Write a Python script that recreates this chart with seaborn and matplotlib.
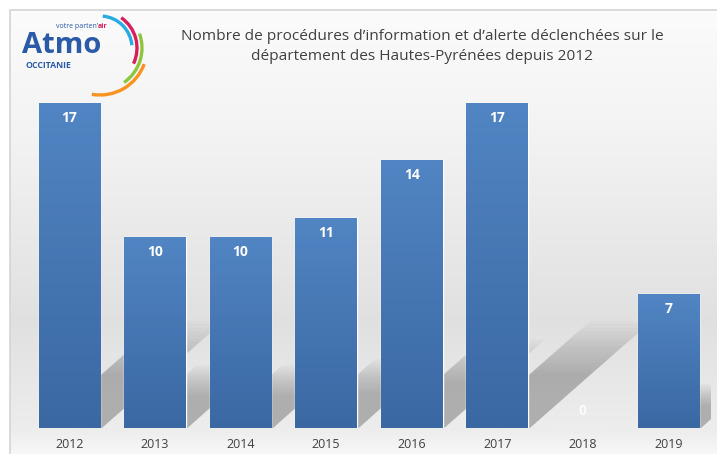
import numpy as np
import matplotlib.pyplot as plt
import seaborn as sns
from matplotlib.patches import Arc, Polygon

# data
years = ['2012', '2013', '2014', '2015', '2016', '2017', '2018', '2019']
counts = [17, 10, 10, 11, 14, 17, 0, 7]

sns.set_style('white')
plt.rcParams['font.family'] = ['Open Sans', 'DejaVu Sans']

W, H = 717, 454
fig = plt.figure(figsize=(W / 100, H / 100), dpi=100)

# background (pixel coordinates, y up)
bg = fig.add_axes([0, 0, 1, 1], zorder=-10)
bg.set_xlim(0, W)
bg.set_ylim(0, H)
bg.axis('off')
yy = np.linspace(0, 1, 256)  # 0 = bottom
shade = np.interp(yy, [0, 0.05, 0.3, 0.7, 1], [0.97, 0.93, 0.88, 0.95, 0.985])
grad = shade[::-1].reshape(-1, 1)
bg.imshow(np.dstack([grad, grad, grad]), aspect='auto', extent=[10, W, 0, H - 10])
bg.plot([10, 10, W], [0, H - 10, H - 10], color='#d4d4d4', lw=1.2)

ax = fig.add_axes([0.037, 0.0573, 0.955, 0.758])
ax.patch.set_alpha(0)
sns.barplot(x=years, y=counts, color='#4a7ab8', width=0.72, ax=ax, saturation=1)
bars = [p for p in ax.patches]

# soft shadows cast by the bars
for p in bars:
    x0, w, h = p.get_x(), p.get_width(), p.get_height()
    if h <= 0:
        continue
    for i in range(16):
        s = 0.7 + i * 0.045
        poly = Polygon([(x0 + 0.05, 0), (x0 + w + 0.02, 0),
                        (x0 + w + 0.062 * h * s, 0.24 * h * s),
                        (x0 + 0.062 * h * s, 0.24 * h * s)],
                       closed=True, fc='#6e6e6e', ec='none', alpha=0.035, zorder=0.5)
        ax.add_patch(poly)

# vertical gradient on the bars
cmap = sns.blend_palette(['#3a68a3', '#5185c3'], as_cmap=True)
gy = np.linspace(0, 1, 256).reshape(-1, 1)
for p in bars:
    if p.get_height() <= 0:
        continue
    x0, w, h = p.get_x(), p.get_width(), p.get_height()
    im = ax.imshow(gy, cmap=cmap, aspect='auto', origin='lower',
                   extent=[x0, x0 + w, 0, h], zorder=2)
    im.set_clip_path(p)
    p.set_zorder(2)
ax.set_xlim(-0.5, len(years) - 0.5)
ax.set_ylim(0, 18)

for i, v in enumerate(counts):
    if v > 0:
        ax.text(i, v - 0.78, str(v), ha='center', va='center', color='white',
                fontsize=10, fontweight='bold', zorder=3)
    else:
        ax.text(i, 0.9, str(v), ha='center', va='center', color='white',
                fontsize=10, fontweight='bold', alpha=0.85, zorder=3)

ax.set_yticks([])
ax.tick_params(axis='x', length=0, labelsize=9, colors='#404040', pad=7)
ax.set_xlabel('')
sns.despine(ax=ax, left=True, bottom=True)

# title
fig.text(0.589, 0.897, "Nombre de procédures d’information et d’alerte déclenchées sur le\n"
         "département des Hautes-Pyrénées depuis 2012",
         ha='center', va='center', fontsize=11.1, color='#404040', linespacing=1.45)

# logo
blue = '#2b5aa6'
bg.text(22, H - 53, 'Atmo', fontsize=21, fontweight='bold', color=blue,
        va='baseline', ha='left')
bg.text(26, H - 68, 'OCCITANIE', fontsize=6.3, fontweight='bold', color=blue,
        va='baseline', ha='left')
bg.text(56, H - 28, 'votre parten’', fontsize=5, color=blue, va='baseline', ha='left')
bg.text(98, H - 28, 'air', fontsize=5, fontweight='bold', color='#d81e5b',
        va='baseline', ha='left')
cx, cy = 100, H - 48
for r, c, t1, t2 in [(32, '#29abe2', 5, 85), (37, '#d81e5b', -25, 55),
                     (42, '#8cc63f', -55, 20), (47, '#f7931e', -100, -20)]:
    bg.add_patch(Arc((cx, cy), 2 * r, 2 * r, theta1=t1, theta2=t2, color=c, lw=2.4))

fig.savefig('out.png', dpi=100)
